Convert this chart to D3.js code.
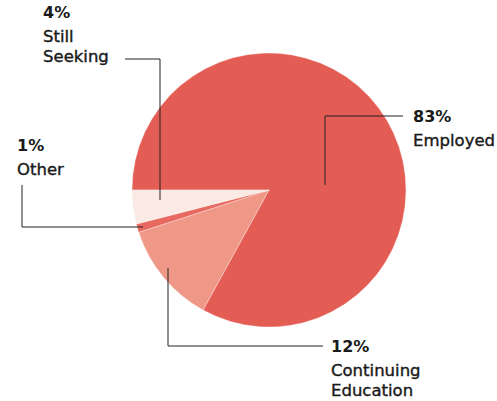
<!DOCTYPE html>
<html>
<head>
<meta charset="utf-8">
<script src="https://cdn.jsdelivr.net/npm/d3@7"></script>
<style>
  html, body { margin: 0; padding: 0; background: #fff; }
  svg { display: block; }
  text { font-family: "DejaVu Sans", Lato, sans-serif; fill: #1a1a1a; }
</style>
</head>
<body>
<svg id="chart" width="497" height="401"></svg>
<script>
// Data
const categories = ["Employed", "Continuing Education", "Other", "Still Seeking"];
const values = [83, 12, 1, 4];
const colors = ["#e45d55", "#ef9888", "#e8695f", "#faeae3"];
const labelLines = [["Employed"], ["Continuing", "Education"], ["Other"], ["Still", "Seeking"]];

const svg = d3.select("#chart");
const cx = 269, cy = 190, r = 137;

const pie = d3.pie().sort(null).value(d => d)
  .startAngle(-Math.PI / 2).endAngle(1.5 * Math.PI);
const arcs = pie(values);
const arc = d3.arc().innerRadius(0).outerRadius(r);

const g = svg.append("g").attr("transform", `translate(${cx},${cy})`);
g.selectAll("path").data(arcs).enter().append("path")
  .attr("d", arc)
  .attr("fill", (d, i) => colors[i])
  .attr("stroke", "#fff")
  .attr("stroke-width", 0.5)
  .attr("stroke-opacity", 0.6);

// Label layout (positions only)
const layout = [
  { anchor: [325, 185], elbow: [325, 116], end: [403, 116], text: [413, 122] },
  { anchor: [168, 268], elbow: [168, 346], end: [323, 346], text: [331, 352] },
  { anchor: [143, 227], elbow: [22, 227], end: [22, 185], text: [17, 151] },
  { anchor: [160, 200], elbow: [160, 59], end: [125, 59], text: [43, 18] }
];

const lines = svg.append("g").attr("fill", "none").attr("stroke", "#222").attr("stroke-width", 1);
layout.forEach(L => {
  lines.append("path").attr("d", d3.line()([L.anchor, L.elbow, L.end]));
});

layout.forEach((L, i) => {
  const t = svg.append("g");
  t.append("text")
    .attr("x", L.text[0]).attr("y", L.text[1])
    .attr("font-size", 16).attr("font-weight", 700)
    .text(values[i] + "%");
  labelLines[i].forEach((s, j) => {
    t.append("text")
      .attr("x", L.text[0]).attr("y", L.text[1] + 24 + j * 20)
      .attr("font-size", 16.5).attr("font-weight", 400)
      .attr("stroke", "#1a1a1a").attr("stroke-width", 0.4)
      .text(s);
  });
});
</script>
</body>
</html>
